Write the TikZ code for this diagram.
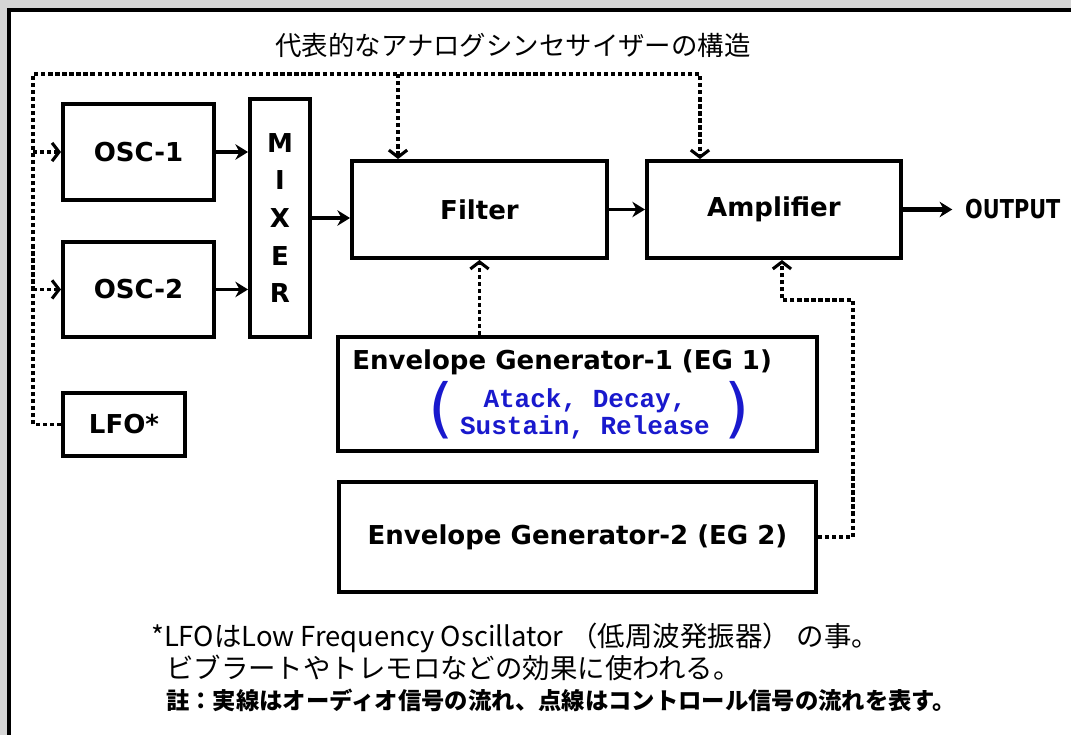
\documentclass[tikz,border=0pt]{standalone}
\usepackage{fontspec}
\usepackage{xcolor}
\usepackage{tikz}
\usetikzlibrary{arrows.meta,positioning,calc}
\setmainfont{DejaVu Sans}
\newfontfamily\jpfont{Noto Sans CJK JP}
\newfontfamily\adsrfont{Liberation Mono}
\newfontfamily\narrowfont{DejaVu Sans}[FakeStretch=0.8]
\definecolor{adsrblue}{RGB}{25,25,205}
\definecolor{bggray}{RGB}{214,214,214}

\begin{document}
\begin{tikzpicture}[x=0.025cm,y=-0.025cm,
  box/.style={draw,line width=2.8pt,inner sep=0pt,align=center,font=\fontsize{18.5}{26.7}\selectfont\bfseries},
  sz/.style 2 args={minimum width=#1*0.025cm,minimum height=#2*0.025cm},
  lbl/.style={inner sep=0pt,font=\fontsize{18.5}{20}\selectfont\bfseries},
  arr/.style={-{Stealth[length=9pt,width=11pt]},line width=2.6pt},
  ctl/.style={line width=2.5pt,dash pattern=on 3pt off 2pt,-{Straight Barb[length=5pt,width=13pt,line width=2.2pt]}},
  jp/.style={inner sep=0pt,font=\jpfont\fontsize{#1}{#1}\selectfont},
  jpb/.style={inner sep=0pt,font=\jpfont\fontsize{#1}{#1}\selectfont\bfseries},
  >=Stealth]
\useasboundingbox (0,0) rectangle (1071,735);
\clip (0,0) rectangle (1071,735);
\fill[bggray] (0,0) rectangle (1071,735);
\draw[fill=white,line width=2.4pt] (9,10) rectangle (1100,760);
\node[jp=18.8] (txTtl) at (513,45) {代表的なアナログシンセサイザーの構造};
\node[box,sz={151}{96}] (bxOscA) at (138.5,152) {OSC-1};
\node[box,sz={151}{95},below=0.95cm of bxOscA] (bxOscB) {OSC-2};
\node[box,sz={122}{63},below right=1.3cm and 0cm of bxOscB.south west] (bxLfo) {LFO*};
\node[box,sz={60}{238}] (bxMix) at (280,218) {M\\I\\X\\E\\R};
\node[box,sz={255}{97}] (bxFlt) at (479.5,209.5) {Filter};
\node[box,sz={254}{97},right=0.9cm of bxFlt] (bxAmp) {Amplifier};
\node[lbl,font=\narrowfont\fontsize{18.5}{20}\selectfont\bfseries,right=1.55cm of bxAmp] (txOut) {OUTPUT};
\node[box,sz={479}{114}] (bxEgA) at (577.5,394) {};
\node[lbl,anchor=west] (txEgA) at (352,362) {Envelope Generator-1 (EG 1)};
\node[inner sep=0pt,align=center,text=adsrblue,font=\adsrfont\fontsize{18.5}{19.5}\selectfont\bfseries] (txAdsr) at (585,414) {Atack, Decay,\\Sustain, Release};
\node[inner sep=0pt,text=adsrblue,font=\fontsize{46}{46}\selectfont] (txLp) at (441,410) {(};
\node[inner sep=0pt,text=adsrblue,font=\fontsize{46}{46}\selectfont] (txRp) at (737,410) {)};
\node[box,sz={477}{110},below=0.675cm of bxEgA] (bxEgB) {Envelope Generator-2 (EG 2)};
\node[jp=19.5,anchor=west] (txNtA) at (151,638) {*LFOはLow Frequency Oscillator\hspace{5pt}（低周波発振器）\hspace{5pt}の事。};
\node[jp=19.5,anchor=west] (txNtB) at (166,668) {ビブラートやトレモロなどの効果に使われる。};
\node[jpb=16.6,anchor=west] (txNtC) at (166,700) {註：実線はオーディオ信号の流れ、点線はコントロール信号の流れを表す。};
\draw[arr] (bxOscA.east) -- (bxOscA.east -| bxMix.west);
\draw[arr] (bxOscB.east) -- (bxOscB.east -| bxMix.west);
\draw[arr] (bxMix.east) -- (bxMix.east -| bxFlt.west);
\draw[arr] (bxFlt.east) -- (bxAmp.west);
\draw[arr,line width=3.8pt,shorten >=9pt] (bxAmp.east) -- (txOut.west);
\coordinate (cTL) at (33,74);
\coordinate (cFi) at ($(bxFlt.north west)+(48,0)$);
\coordinate (cAm) at ($(bxAmp.north west)+(55,0)$);
\coordinate (cAu) at ($(bxAmp.south)+(8,0)$);
\draw[ctl] (bxLfo.west) -| (cTL) -| (cAm);
\draw[ctl] (cFi |- cTL) -- (cFi);
\draw[ctl] (cTL |- bxOscA.west) -- (bxOscA.west);
\draw[ctl] (cTL |- bxOscB.west) -- (bxOscB.west);
\draw[ctl] (bxFlt.south |- bxEgA.north) -- (bxFlt.south);
\draw[ctl] (bxEgB.east) -- ++(35,0) |- ($(cAu)+(0,40)$) -- (cAu);
\end{tikzpicture}
\end{document}
